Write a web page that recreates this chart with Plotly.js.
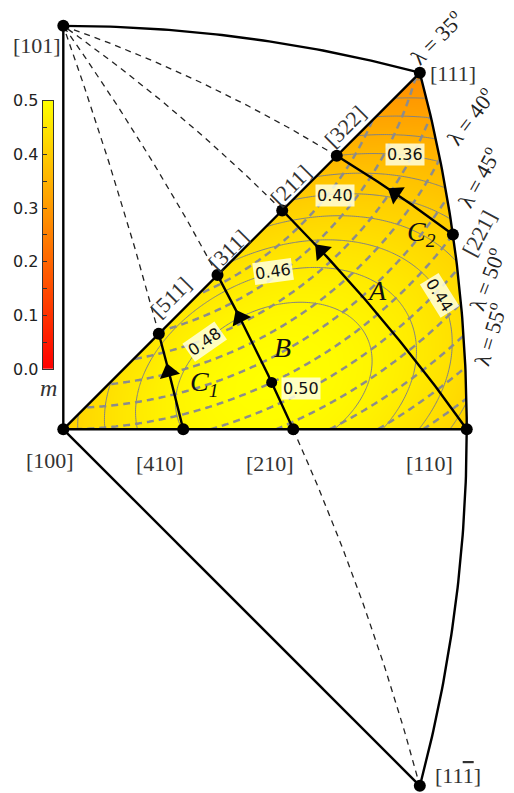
<!DOCTYPE html>
<html>
<head>
<meta charset="utf-8">
<script src="https://cdn.plot.ly/plotly-3.0.1.min.js"></script>
<style>
    html, body { margin: 0; padding: 0; background: #fff; }
    #chart { width: 514px; height: 793px; }
</style>
</head>
<body>
<div id="chart"></div>
<script>
// Crystal directions drawn on the projection (Miller indices)
const poleNames = ['101', '111', '100', '110', '11-1', '410', '210', '511', '311', '211', '322', '221'];
const poleIndices = [[1, 0, 1], [1, 1, 1], [1, 0, 0], [1, 1, 0], [1, 1, -1], [4, 1, 0], [2, 1, 0], [5, 1, 1], [3, 1, 1], [2, 1, 1], [3, 2, 2], [2, 2, 1]];

// Primary slip system: slip direction and slip plane normal
const slipDirection = [1, 0, 1];
const slipPlane = [1, 1, -1];

// Outline of the standard triangle and the neighbouring one
const outlineFrom = ['100', '101', '111', '110', '11-1', '100', '100'];
const outlineTo = ['101', '111', '110', '11-1', '100', '110', '111'];

// Rotation paths of the tensile axis (start -> end), continued dashed towards the slip direction
const pathNames = ['A', 'B', 'C<sub>1</sub>', 'C<sub>2</sub>'];
const pathStart = ['110', '210', '410', '221'];
const pathEnd = ['211', '311', '511', '322'];
const extraDashedFrom = ['210'];
const extraDashedTo = ['11-1'];

// Contour levels: Schmid factor m (solid) and angle lambda (dashed)
const mLevels = [0.28, 0.30, 0.32, 0.34, 0.36, 0.38, 0.40, 0.42, 0.44, 0.46, 0.48];
const lambdaLevels = [32.5, 35, 37.5, 40, 42.5, 45, 47.5, 50, 52.5, 55, 57.5];
const mLabelTexts = ['0.36', '0.40', '0.44', '0.46', '0.48', '0.50'];
const lambdaLabelValues = [35, 40, 45, 50, 55];

// Colour bar
const colorbarRange = [0, 0.5];
const colorbarTicks = [0, 0.1, 0.2, 0.3, 0.4, 0.5];

const AUTUMN = [[0, 'rgb(255,0,0)'], [1, 'rgb(255,255,0)']];
const SERIF = 'Liberation Serif, DejaVu Serif, serif';
const SANS = 'DejaVu Sans, sans-serif';

// --- geometry helpers ---
const norm = v => { const n = Math.hypot(v[0], v[1], v[2]); return v.map(c => c / n); };
const dot = (a, b) => a[0] * b[0] + a[1] * b[1] + a[2] * b[2];
const pole = name => poleIndices[poleNames.indexOf(name)];

// stereographic projection along [100]
function project(v) {
    const u = norm(v);
    return [u[1] / (1 + u[0]), u[2] / (1 + u[0])];
}

function slerp(a, b, t) {
    const ua = norm(a), ub = norm(b);
    const om = Math.acos(Math.max(-1, Math.min(1, dot(ua, ub))));
    const s = Math.sin(om);
    const wa = Math.sin((1 - t) * om) / s, wb = Math.sin(t * om) / s;
    return [0, 1, 2].map(i => wa * ua[i] + wb * ub[i]);
}

function greatCircle(a, b, steps = 60) {
    const xs = [], ys = [];
    for (let i = 0; i <= steps; i++) {
        const p = project(slerp(a, b, i / steps));
        xs.push(p[0]); ys.push(p[1]);
    }
    return { x: xs, y: ys };
}

// --- Schmid factor field over the triangle region ---
const dHat = norm(slipDirection), nHat = norm(slipPlane);
const gridStep = 0.002;
const gx = [], gy = [];
for (let i = 0; i * gridStep <= 0.417; i++) gx.push(i * gridStep);
for (let j = 0; j * gridStep <= 0.369; j++) gy.push(j * gridStep);
const mGrid = [], lambdaGrid = [];
gy.forEach(Y => {
    const mRow = [], lRow = [];
    gx.forEach(X => {
        const r2 = X * X + Y * Y;
        const v = [(1 - r2) / (1 + r2), 2 * X / (1 + r2), 2 * Y / (1 + r2)];
        const cl = Math.abs(dot(v, dHat)), cp = Math.abs(dot(v, nHat));
        mRow.push(cl * cp);
        lRow.push(Math.acos(Math.min(1, cl)) * 180 / Math.PI);
    });
    mGrid.push(mRow);
    lambdaGrid.push(lRow);
});

const traces = [];

traces.push({
    type: 'heatmap', x: gx, y: gy, z: mGrid,
    zmin: colorbarRange[0], zmax: colorbarRange[1],
    colorscale: AUTUMN, zsmooth: 'best', showscale: false, hoverinfo: 'skip'
});

traces.push({
    type: 'contour', x: gx, y: gy, z: mGrid,
    autocontour: false,
    contours: { start: mLevels[0], end: mLevels[mLevels.length - 1], size: 0.02, coloring: 'none' },
    line: { color: 'rgb(130,130,130)', width: 1, smoothing: 1 },
    showscale: false, hoverinfo: 'skip'
});

traces.push({
    type: 'contour', x: gx, y: gy, z: lambdaGrid,
    autocontour: false,
    contours: { start: lambdaLevels[0], end: lambdaLevels[lambdaLevels.length - 1], size: 2.5, coloring: 'none' },
    line: { color: 'rgb(140,140,140)', width: 2.5, dash: '7px,5px', smoothing: 1 },
    showscale: false, hoverinfo: 'skip'
});

// white masks outside the triangle
const p111 = project(pole('111'));
const rim = greatCircle(pole('111'), pole('110'));
traces.push({
    x: [-0.004, 0, p111[0], p111[0], -0.004], y: [0, 0, p111[1], 0.38, 0.38],
    mode: 'lines', fill: 'toself', fillcolor: '#fff', line: { width: 0 }, hoverinfo: 'skip'
});
traces.push({
    x: rim.x.concat([0.43, 0.43, p111[0]]), y: rim.y.concat([-0.003, 0.38, 0.38]),
    mode: 'lines', fill: 'toself', fillcolor: '#fff', line: { width: 0 }, hoverinfo: 'skip'
});

// dashed great circles towards the slip direction
const dashedFrom = pathEnd.concat(extraDashedFrom);
const dashedTo = pathEnd.map(() => '101').concat(extraDashedTo);
dashedFrom.forEach((from, i) => {
    const gc = greatCircle(pole(from), pole(dashedTo[i]));
    traces.push({
        x: gc.x, y: gc.y, mode: 'lines',
        line: { color: '#222', width: 1.3, dash: '6px,5px' }, hoverinfo: 'skip'
    });
});

// outline
outlineFrom.forEach((from, i) => {
    const gc = greatCircle(pole(from), pole(outlineTo[i]));
    traces.push({ x: gc.x, y: gc.y, mode: 'lines', line: { color: '#000', width: 2.4 }, hoverinfo: 'skip' });
});

// rotation paths with arrow heads
const arrowAt = [0.8, 0.72, 0.6, 0.5];
pathStart.forEach((from, i) => {
    const gc = greatCircle(pole(from), pole(pathEnd[i]));
    traces.push({ x: gc.x, y: gc.y, mode: 'lines', line: { color: '#000', width: 2.4 }, hoverinfo: 'skip' });
    const a = project(slerp(pole(from), pole(pathEnd[i]), arrowAt[i] - 0.02));
    const b = project(slerp(pole(from), pole(pathEnd[i]), arrowAt[i]));
    const ang = Math.atan2(b[0] - a[0], b[1] - a[1]) * 180 / Math.PI;
    traces.push({
        x: [b[0]], y: [b[1]], mode: 'markers',
        marker: { symbol: 'triangle-up', size: 18, color: '#000', angle: ang }, hoverinfo: 'skip'
    });
});

// pole dots
const poleXY = poleIndices.map(project);
traces.push({
    x: poleXY.map(p => p[0]), y: poleXY.map(p => p[1]), mode: 'markers',
    marker: { color: '#000', size: 12 }, hoverinfo: 'skip'
});

// orientation of maximum Schmid factor (0.5)
const mMax = project(dHat.map((c, i) => c + nHat[i]));
traces.push({
    x: [mMax[0]], y: [mMax[1]], mode: 'markers',
    marker: { color: '#000', size: 11 }, hoverinfo: 'skip'
});

// colour bar as its own small axis
traces.push({
    type: 'heatmap', xaxis: 'x2', yaxis: 'y2',
    x: [0, 1], y: colorbarRange, z: [[colorbarRange[0], colorbarRange[0]], [colorbarRange[1], colorbarRange[1]]],
    zmin: colorbarRange[0], zmax: colorbarRange[1],
    colorscale: AUTUMN, zsmooth: 'best', showscale: false, hoverinfo: 'skip'
});

// --- labels ---
const W = 514, H = 793;
const lab = (text, px, py, font, angle = 0, extra = {}) => Object.assign({
    text: text, x: px / W, y: 1 - py / H, xref: 'paper', yref: 'paper',
    xanchor: 'center', yanchor: 'middle', showarrow: false, textangle: angle, font: font
}, extra);

const millerFont = { family: SERIF, size: 22, color: '#333' };
const millerText = name => '[' + name + ']';
const annotations = [
    lab(millerText('101'), 37, 45, millerFont),
    lab(millerText('111'), 453, 73, millerFont),
    lab(millerText('100'), 50, 461, millerFont),
    lab(millerText('410'), 160, 463, millerFont),
    lab(millerText('210'), 270, 463, millerFont),
    lab(millerText('110'), 429, 463, millerFont),
    lab('[11<span style="text-decoration:overline">1</span>]', 458, 775, millerFont),
    lab(millerText('511'), 171, 298, millerFont, -45),
    lab(millerText('311'), 228, 250, millerFont, -45),
    lab(millerText('211'), 291, 186, millerFont, -45),
    lab(millerText('322'), 345, 126, millerFont, -45),
    lab(millerText('221'), 479, 233, millerFont, -62)
];

const lambdaPos = [[436, 37, -45], [470, 116, -53], [478, 177, -61], [486, 279, -69], [489, 334, -73]];
lambdaLabelValues.forEach((v, i) => {
    annotations.push(lab('λ = ' + v + '<sup>o</sup>', lambdaPos[i][0], lambdaPos[i][1],
        { family: SERIF, size: 22, color: '#222' }, lambdaPos[i][2]));
});

const pathPos = [[377, 290], [282, 347], [204, 383], [421, 233]];
pathNames.forEach((t, i) => {
    annotations.push(lab('<i>' + t + '</i>', pathPos[i][0], pathPos[i][1], { family: SERIF, size: 28, color: '#111' }));
});

const mPos = [[405, 155, 0], [335, 195, 0], [440, 295, 58], [273, 271, -8], [205, 342, -35], [301, 388, 0]];
mLabelTexts.forEach((t, i) => {
    annotations.push(lab(t, mPos[i][0], mPos[i][1], { family: SANS, size: 16, color: '#111' }, mPos[i][2],
        { bgcolor: 'rgba(255,255,225,0.85)', borderpad: 1 }));
});

annotations.push(lab('<i>m</i>', 48, 388, { family: SERIF, size: 24, color: '#333' }));

const scale = 974, ox = 63.3, oy = 429.3;
const layout = {
    width: W, height: H,
    margin: { l: 0, r: 0, t: 0, b: 0 },
    paper_bgcolor: '#fff', plot_bgcolor: 'rgba(0,0,0,0)',
    showlegend: false, hovermode: false,
    xaxis: { range: [-ox / scale, (W - ox) / scale], visible: false, domain: [0, 1] },
    yaxis: { range: [(oy - H) / scale, oy / scale], visible: false, domain: [0, 1] },
    xaxis2: {
        domain: [42.7 / W, 53.3 / W], anchor: 'y2', range: [0, 1],
        showline: true, mirror: true, linecolor: '#333', linewidth: 1,
        showticklabels: false, ticks: '', showgrid: false, zeroline: false
    },
    yaxis2: {
        domain: [(H - 369) / H, (H - 100.7) / H], anchor: 'x2', range: colorbarRange,
        showline: true, mirror: true, linecolor: '#333', linewidth: 1,
        tickvals: colorbarTicks, tickformat: '.1f', ticks: 'inside', ticklen: 4, tickcolor: '#333',
        minor: { dtick: 0.05, ticks: 'inside', ticklen: 4, tickcolor: '#333' },
        tickfont: { family: SANS, size: 16, color: '#222' },
        showgrid: false, zeroline: false
    },
    annotations: annotations
};

Plotly.newPlot('chart', traces, layout, { displayModeBar: false, staticPlot: true });
</script>
</body>
</html>
